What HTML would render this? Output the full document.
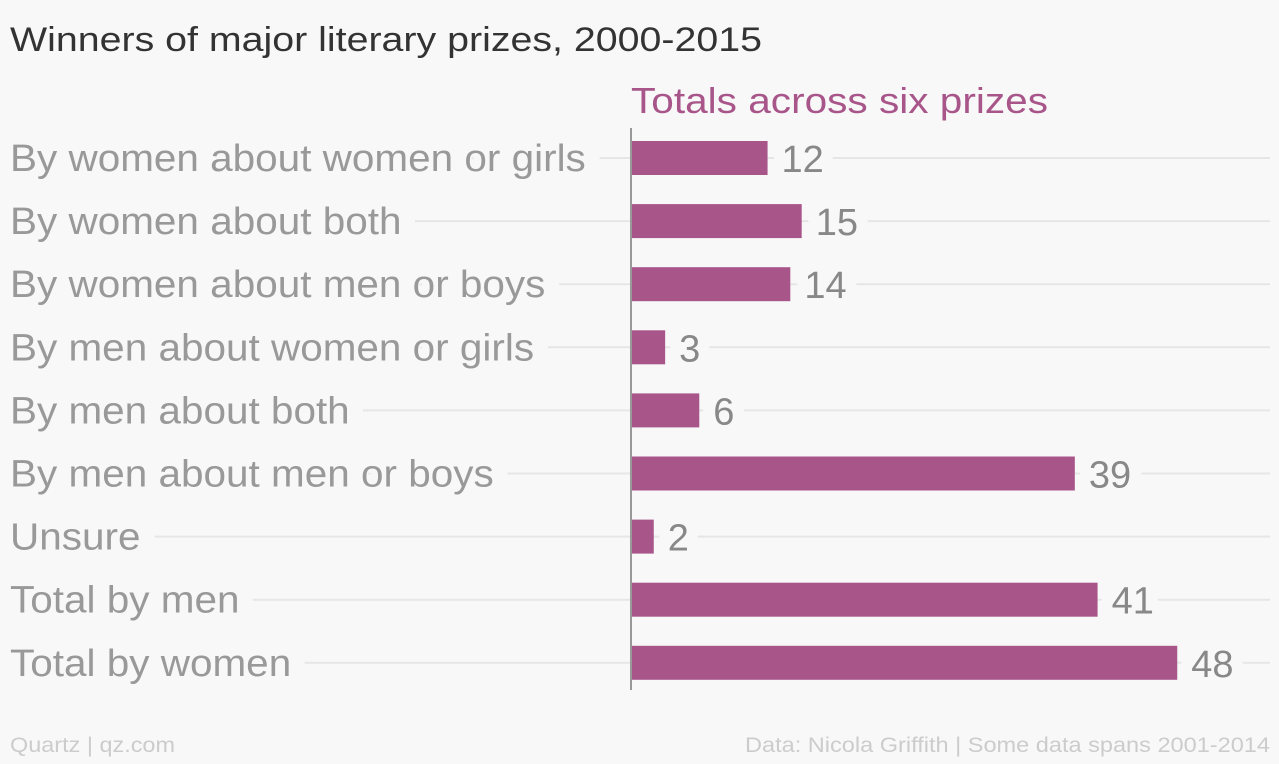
<!DOCTYPE html>
<html><head><meta charset="utf-8"><style>
body{margin:0;background:#f8f8f8;width:1279px;height:759px;overflow:hidden;font-family:"Liberation Sans",sans-serif}
</style></head><body>
<svg width="1279" height="759" xmlns="http://www.w3.org/2000/svg">
<rect width="1279" height="759" fill="#f8f8f8"/>
<text x="10" y="51" font-size="34" fill="#333" textLength="752" lengthAdjust="spacingAndGlyphs">Winners of major literary prizes, 2000-2015</text>
<text x="631" y="113" font-size="36" fill="#a8558a" textLength="417" lengthAdjust="spacingAndGlyphs">Totals across six prizes</text>
<g id="grid"></g><g id="labels"></g><g id="bars"></g>
<line x1="631" y1="128" x2="631" y2="690" stroke="#999" stroke-width="2"/>
<text x="10" y="752" font-size="21" fill="#ccc" textLength="165" lengthAdjust="spacingAndGlyphs">Quartz | qz.com</text>
<text x="745" y="752" font-size="21" fill="#ccc" textLength="525" lengthAdjust="spacingAndGlyphs">Data: Nicola Griffith | Some data spans 2001-2014</text>
</svg>
<script>
const categories=["By women about women or girls","By women about both","By women about men or boys","By men about women or girls","By men about both","By men about men or boys","Unsure","Total by men","Total by women"];
const values=[12,15,14,3,6,39,2,41,48];
const NS="http://www.w3.org/2000/svg";
const x0=631,scale=11.38,top0=158,step=63.1,bh=34;
const xs=v=>x0+v*scale, ys=i=>top0+i*step;
const grid=document.getElementById('grid'),labels=document.getElementById('labels'),bars=document.getElementById('bars');
function mk(t,a,p){const e=document.createElementNS(NS,t);for(const k in a)e.setAttribute(k,a[k]);p.appendChild(e);return e;}
categories.forEach((c,i)=>{
 const y=ys(i);
 const gl=mk('line',{x1:10,y1:y,x2:1270,y2:y,stroke:'#e6e6e6','stroke-width':2},grid);
 
 
 const lbg=mk('text',{x:10,y:y+13,'font-size':38,fill:'#999',stroke:'#f8f8f8','stroke-width':30,'stroke-linejoin':'round','paint-order':'stroke'},labels);
 lbg.textContent=c;
 
 
 const w=lbg.getComputedTextLength();
 lbg.setAttribute('textLength',(w*1.065).toFixed(1));
 lbg.setAttribute('lengthAdjust','spacingAndGlyphs');
 const v=mk('text',{x:xs(values[i])+14,y:y+14,'font-size':38,fill:'#888',stroke:'#f8f8f8','stroke-width':24,'stroke-linejoin':'round','paint-order':'stroke'},labels);
 v.textContent=values[i];
 
 
 const r=mk('rect',{x:x0,y:y-bh/2,width:xs(values[i])-x0,height:bh,fill:'#a8558a'},bars);
 
 
});
</script>
</body></html>
